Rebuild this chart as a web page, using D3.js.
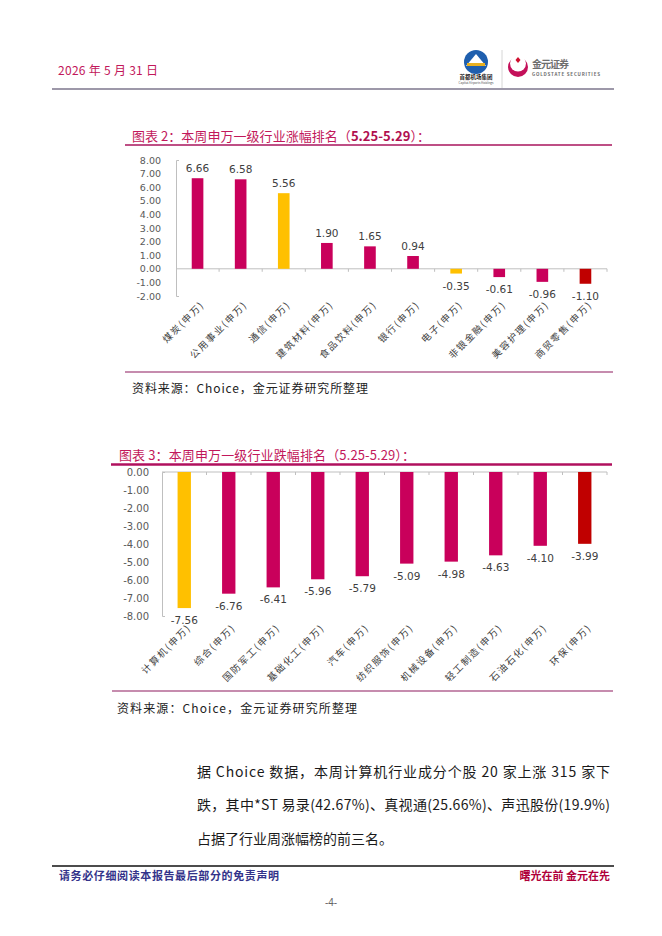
<!DOCTYPE html>
<html><head><meta charset="utf-8">
<script src="https://cdn.jsdelivr.net/npm/d3@7"></script>
<style>
body{margin:0;background:#fff}
svg{display:block;font-family:"Noto Sans CJK SC","Noto Sans",sans-serif}
</style></head>
<body><svg id="page"></svg>
<script>
// 涨幅排名
const upCats = ['煤炭(申万)', '公用事业(申万)', '通信(申万)', '建筑材料(申万)', '食品饮料(申万)',
    '银行(申万)', '电子(申万)', '非银金融(申万)', '美容护理(申万)', '商贸零售(申万)']
const upVals = [6.66, 6.58, 5.56, 1.90, 1.65, 0.94, -0.35, -0.61, -0.96, -1.10]
const upTicks = [-2, -1, 0, 1, 2, 3, 4, 5, 6, 7, 8]

// 跌幅排名
const downCats = ['计算机(申万)', '综合(申万)', '国防军工(申万)', '基础化工(申万)', '汽车(申万)',
    '纺织服饰(申万)', '机械设备(申万)', '轻工制造(申万)', '石油石化(申万)', '环保(申万)']
const downVals = [-7.56, -6.76, -6.41, -5.96, -5.79, -5.09, -4.98, -4.63, -4.10, -3.99]
const downTicks = [0, -1, -2, -3, -4, -5, -6, -7, -8]

// TMT-related sectors shown in yellow
const highlightCats = ['通信(申万)', '电子(申万)', '计算机(申万)']

const bodyLines = [
    '据 Choice 数据，本周计算机行业成分个股 20 家上涨 315 家下',
    '跌，其中*ST 易录(42.67%)、真视通(25.66%)、声迅股份(19.9%)',
    '占据了行业周涨幅榜的前三名。'
]

const W = 662, H = 936
const svg = d3.select('#page').attr('width', W).attr('height', H)
svg.append('rect').attr('width', W).attr('height', H).attr('fill', '#fff')

const pink = '#C2185B'
const fmt = d3.format('.2f')

// ---- header
svg.append('text').attr('x', 58).attr('y', 71).attr('dy', '0.35em')
    .attr('font-size', 12).attr('fill', pink).attr('textLength', 100)
    .text('2026 年 5 月 31 日')

const logo = svg.append('g')
logo.append('circle').attr('cx', 476).attr('cy', 62).attr('r', 12).attr('fill', '#1F5FAE')
logo.append('path').attr('d', 'M466,66 L476,54 L486,66 Z').attr('fill', '#fff')
logo.append('rect').attr('x', 467).attr('y', 63).attr('width', 18).attr('height', 3).attr('fill', '#E8B020')
logo.append('text').attr('x', 476).attr('y', 79).attr('text-anchor', 'middle')
    .attr('font-size', 5.5).attr('font-weight', 'bold').attr('fill', '#222').text('首都机场集团')
logo.append('text').attr('x', 476).attr('y', 84).attr('text-anchor', 'middle')
    .attr('font-size', 3).attr('fill', '#555').text('Capital Airports Holdings')
logo.append('line').attr('x1', 502).attr('x2', 502).attr('y1', 50).attr('y2', 88)
    .attr('stroke', '#ccc').attr('stroke-width', 0.8)
logo.append('circle').attr('cx', 518).attr('cy', 67).attr('r', 10).attr('fill', '#C4105A')
logo.append('circle').attr('cx', 518).attr('cy', 63.5).attr('r', 8).attr('fill', '#fff')
logo.append('path').attr('d', 'M518,57 L520.5,60 L518,63 L515.5,60 Z').attr('fill', '#D01030')
logo.append('text').attr('x', 532).attr('y', 64).attr('dy', '0.35em')
    .attr('font-size', 10).attr('font-weight', 'bold').attr('fill', '#6E6E6E')
    .attr('textLength', 37).text('金元证券')
logo.append('text').attr('x', 532).attr('y', 75.5)
    .attr('font-size', 4.5).attr('font-weight', 'bold').attr('fill', '#6E6E6E')
    .attr('textLength', 68).text('GOLDSTATE SECURITIES')

svg.append('line').attr('x1', 52).attr('x2', 614).attr('y1', 89).attr('y2', 89)
    .attr('stroke', '#3C3355').attr('stroke-width', 1.2)

function color(d, i, n) {
    if (highlightCats.includes(d)) return '#FFC000'
    if (i === n - 1) return '#C00000'
    return '#C9005B'
}

function barChart(settings) {
    const s = settings
    const g = svg.append('g')

    const x = d3.scaleBand().domain(s.cats).range(s.xRange)
        .paddingInner(s.pad).paddingOuter(s.pad / 2)
    const y = d3.scaleLinear().domain(s.domain).range(s.yRange)
    const zero = y(0)

    // y axis
    const yAxis = g.append('g').attr('transform', `translate(${s.xRange[0]},0)`)
        .call(d3.axisLeft(y).tickValues(s.ticks).tickFormat(d => fmt(d).replace('−', '-'))
            .tickSizeInner(0).tickSizeOuter(-3).tickPadding(s.tickPad))
    yAxis.select('.domain').attr('stroke', '#BFBFBF')
    yAxis.selectAll('text').attr('font-size', s.tickFont).attr('fill', '#595959')
        .attr('font-family', '"DejaVu Sans","Noto Sans CJK SC",sans-serif')

    // category (zero) line
    const xAxis = g.append('g').attr('transform', `translate(0,${zero})`)
    xAxis.append('line').attr('x1', s.xRange[0]).attr('x2', s.xRange[1])
        .attr('stroke', '#BFBFBF')
    xAxis.selectAll('line.tk').data(s.cats).enter().append('line')
        .attr('class', 'tk')
        .attr('x1', d => x(d) + x.bandwidth() / 2 + x.step() / 2)
        .attr('x2', d => x(d) + x.bandwidth() / 2 + x.step() / 2)
        .attr('y1', 0).attr('y2', 3).attr('stroke', '#BFBFBF')

    // bars
    g.append('g').selectAll('rect').data(s.vals).enter().append('rect')
        .attr('x', (d, i) => x(s.cats[i]))
        .attr('width', x.bandwidth())
        .attr('y', d => Math.min(y(d), zero))
        .attr('height', d => Math.abs(y(d) - zero))
        .attr('fill', (d, i) => color(s.cats[i], i, s.cats.length))

    // value labels
    g.append('g').selectAll('text').data(s.vals).enter().append('text')
        .attr('x', (d, i) => x(s.cats[i]) + x.bandwidth() / 2)
        .attr('y', d => d >= 0 ? y(d) - 6 : y(d) + 16)
        .attr('text-anchor', 'middle')
        .attr('font-size', 10.5).attr('fill', '#404040')
        .attr('font-family', '"DejaVu Sans","Noto Sans CJK SC",sans-serif')
        .text(d => fmt(d).replace('−', '-'))

    // category labels
    g.append('g').selectAll('text').data(s.cats).enter().append('text')
        .attr('transform', d => `translate(${x(d) + x.bandwidth() / 2 + 5},${s.catY}) rotate(-45)`)
        .attr('text-anchor', 'end').attr('dy', '0.35em')
        .attr('font-size', 9.5).attr('letter-spacing', 1.6).attr('fill', '#404040')
        .text(d => d)
}

// ---- chart 2 (涨幅)
const t1 = svg.append('text').attr('x', 132).attr('y', 136).attr('dy', '0.35em')
    .attr('font-size', 13).attr('fill', pink).attr('textLength', 298)
t1.append('tspan').text('图表 2：本周申万一级行业涨幅排名（')
t1.append('tspan').attr('font-weight', 'bold').attr('fill', '#B0104F').text('5.25-5.29')
t1.append('tspan').text('）：')
svg.append('line').attr('x1', 125).attr('x2', 612).attr('y1', 145).attr('y2', 145)
    .attr('stroke', '#A8145C').attr('stroke-width', 1.5)

barChart({
    cats: upCats, vals: upVals, ticks: upTicks,
    domain: [-2, 8], yRange: [296, 160], xRange: [176, 607],
    pad: 0.73, catY: 303, tickFont: 9.5, tickPad: 15
})

svg.append('line').attr('x1', 125).attr('x2', 613).attr('y1', 372).attr('y2', 372)
    .attr('stroke', '#8E1B5E').attr('stroke-width', 1.2)
svg.append('text').attr('x', 132).attr('y', 389).attr('dy', '0.35em')
    .attr('font-size', 12).attr('fill', '#222').attr('textLength', 236)
    .text('资料来源：Choice，金元证券研究所整理')

// ---- chart 3 (跌幅)
svg.append('text').attr('x', 119).attr('y', 455).attr('dy', '0.35em')
    .attr('font-size', 13).attr('fill', pink).attr('textLength', 296)
    .text('图表 3：本周申万一级行业跌幅排名（5.25-5.29）：')
svg.append('line').attr('x1', 111).attr('x2', 612).attr('y1', 464.5).attr('y2', 464.5)
    .attr('stroke', '#B0105E').attr('stroke-width', 2.5)

barChart({
    cats: downCats, vals: downVals, ticks: downTicks,
    domain: [-8, 0], yRange: [616, 472], xRange: [162, 607],
    pad: 0.7, catY: 626, tickFont: 10, tickPad: 13
})

svg.append('line').attr('x1', 112).attr('x2', 613).attr('y1', 691).attr('y2', 691)
    .attr('stroke', '#8E1B5E').attr('stroke-width', 1.2)
svg.append('text').attr('x', 117).attr('y', 709).attr('dy', '0.35em')
    .attr('font-size', 12).attr('fill', '#222').attr('textLength', 240)
    .text('资料来源：Choice，金元证券研究所整理')

// ---- body text
svg.append('g').selectAll('text').data(bodyLines).enter().append('text')
    .attr('x', 197).attr('y', (d, i) => 772 + i * 33.5).attr('dy', '0.35em')
    .attr('font-size', 14).attr('fill', '#1a1a1a')
    .each(function(d, i) {
        if (i < bodyLines.length - 1) d3.select(this).attr('textLength', 413).attr('lengthAdjust', 'spacing')
    })
    .text(d => d)

// ---- footer
svg.append('line').attr('x1', 52).attr('x2', 614).attr('y1', 866).attr('y2', 866)
    .attr('stroke', '#111').attr('stroke-width', 1.5)
svg.append('text').attr('x', 59).attr('y', 876).attr('dy', '0.35em')
    .attr('font-size', 11).attr('font-weight', 'bold').attr('fill', '#33338A')
    .attr('textLength', 220).text('请务必仔细阅读本报告最后部分的免责声明')
svg.append('text').attr('x', 610).attr('y', 876).attr('dy', '0.35em').attr('text-anchor', 'end')
    .attr('font-size', 11).attr('font-weight', 'bold').attr('fill', '#B0003A')
    .text('曙光在前 金元在先')
svg.append('text').attr('x', 331).attr('y', 902).attr('dy', '0.35em').attr('text-anchor', 'middle')
    .attr('font-size', 10).attr('fill', '#666').attr('font-family', '"Liberation Sans",sans-serif')
    .text('-4-')
</script>
</body></html>
